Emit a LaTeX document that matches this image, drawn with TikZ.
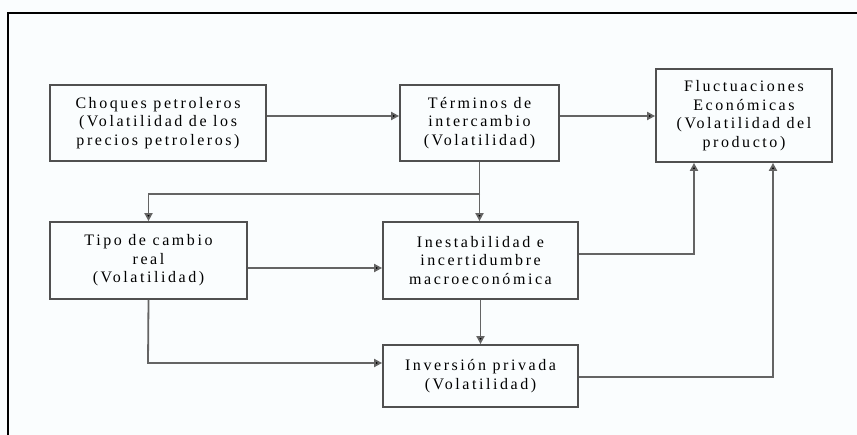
\documentclass[tikz,border=0pt]{standalone}
\usepackage{fontspec}
\setmainfont{Liberation Serif}[LetterSpace=16]
\usetikzlibrary{arrows.meta}
\definecolor{bgc}{RGB}{250,253,254}
\definecolor{boxc}{RGB}{80,80,80}
\definecolor{linec}{RGB}{100,100,100}
\tikzset{
  box/.style={draw=boxc, line width=1.8pt, align=center, inner sep=0pt,
    font=\fontsize{16}{18.5}\selectfont, text=black},
  conn/.style={draw=linec, line width=1.8pt, -{Triangle[length=8pt,width=8pt,fill=black]}},
}
\begin{document}
\begin{tikzpicture}[x=1pt,y=-1pt]
\useasboundingbox (0,0) rectangle (857,435);
\fill[bgc] (0,0) rectangle (857,435);
\draw[black, line width=2pt] (8,435) -- (8,13) -- (857,13);

\node[box, minimum width=216pt, minimum height=76pt] (cho) at (158,123)
  {Choques petroleros\\(Volatilidad de los\\precios petroleros)};
\node[box, minimum width=159pt, minimum height=76pt] (ter) at (479.5,123)
  {Términos de\\intercambio\\(Volatilidad)};
\node[box, minimum width=176pt, minimum height=93pt] (flu) at (744,115.5)
  {Fluctuaciones\\Económicas\\(Volatilidad del\\producto)};
\node[box, minimum width=197pt, minimum height=77pt] (tip) at (148.5,260.5)
  {Tipo de cambio\\real\\(Volatilidad)};
\node[box, minimum width=195pt, minimum height=77pt] (ine) at (480.5,260.5)
  {Inestabilidad e\\incertidumbre\\macroeconómica};
\node[box, minimum width=195pt, minimum height=62pt] (inv) at (480.5,376)
  {Inversión privada\\(Volatilidad)};

\coordinate (br) at (480,194);
\coordinate (c1) at (694,254);
\coordinate (c2) at (773,377);
\coordinate (c3) at (148,363);

\draw[conn] ([yshift=7pt]cho.east) -- ([yshift=7pt]ter.west);
\draw[conn] ([yshift=7pt]ter.east) -- ([yshift=7pt]ter.east -| flu.west);
\draw[conn] (ter.south) -- (ter.south |- ine.north);
\draw[conn] (br) -| (tip.north);
\draw[conn] ([yshift=-7.5pt]tip.east) -- ([yshift=-7.5pt]ine.west);
\draw[conn] (tip.south) -- (c3) -- (c3 -| inv.west);
\draw[conn] (ine.south) -- (inv.north);
\draw[conn] (c1 -| ine.east) -- (c1) -- (c1 |- flu.south);
\draw[conn] (c2 -| inv.east) -- (c2) -- (c2 |- flu.south);
\end{tikzpicture}
\end{document}
